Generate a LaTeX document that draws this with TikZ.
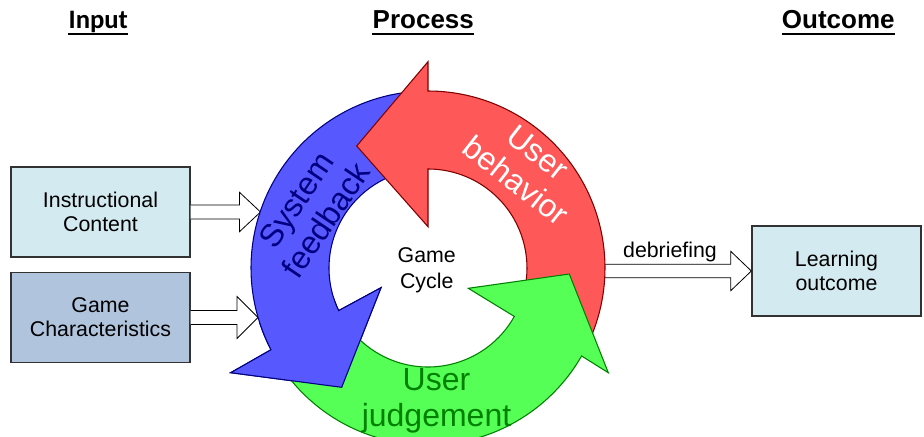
\documentclass[tikz,border=0pt]{standalone}
\usepackage{fontspec}
\setmainfont{Liberation Sans}
\newfontfamily\calibfont{Carlito}
\usetikzlibrary{calc}
\definecolor{redfill}{RGB}{255,88,88}
\definecolor{redline}{RGB}{128,0,0}
\definecolor{bluefill}{RGB}{88,88,255}
\definecolor{blueline}{RGB}{0,0,128}
\definecolor{greenfill}{RGB}{85,255,85}
\definecolor{greenline}{RGB}{0,128,0}
\definecolor{icfill}{RGB}{211,234,240}
\definecolor{gcfill}{RGB}{176,196,222}
\definecolor{boxline}{RGB}{50,50,50}
\tikzset{
  box/.style={draw=boxline, line width=1pt, minimum width=134.25pt, minimum height=67.5pt,
    align=center, inner sep=0pt, font=\fontsize{16}{18}\selectfont},
  blockarr/.style={draw=black, fill=white, line width=0.6pt, line join=miter},
  hdr/.style={anchor=base, inner sep=0pt, font=\fontsize{19.5}{22}\selectfont\bfseries},
  uline/.style={line width=1.6pt},
  cyc/.style={line width=0.8pt, line join=miter},
  bigtext/.style={align=center, inner sep=0pt, font=\fontsize{24}{27}\selectfont},
  smalltext/.style={align=center, inner sep=0pt, font=\fontsize{16}{19.5}\selectfont}
}
\begin{document}
\begin{tikzpicture}[x=0.75pt,y=0.75pt]
\useasboundingbox (-428,-168) rectangle (496,268);
\clip (-428,-168) rectangle (496,268);

% headers
\node[hdr, font=\fontsize{20}{22}\selectfont\bfseries\calibfont] (hin) at (-329.7,239) {Input};
\node[hdr] (hpr) at (-4.7,239) {Process};
\node[hdr] (hout) at (410.3,239) {Outcome};
\foreach \h in {hin,hpr,hout}{
  \draw[uline] ($(\h.base west)+(0,-5)$) -- ($(\h.base east)+(0,-5)$);
}

% boxes
\node[box, fill=icfill] (ic) at (-327.5,56) {Instructional\\Content};
\node[box, fill=gcfill] (gc) at (-327.5,-49.5) {Game\\Characteristics};
\node[box, fill=icfill, minimum width=126.75pt] (lo) at (408.5,-3) {Learning\\outcome};

% arrow tips / ends
\coordinate (c) at (0,0);
\coordinate (t1) at (-167.5,56);
\coordinate (t2) at (-170,-49.5);
\coordinate (d0) at (165,-3);

% block arrows
\draw[blockarr] ($(ic.east)+(0,7)$) -- ($(t1)+(-21,7)$) -- ($(t1)+(-21,19.7)$) -- (t1)
  -- ($(t1)+(-21,-19.7)$) -- ($(t1)+(-21,-7)$) -- ($(ic.east)+(0,-7)$);
\draw[blockarr] ($(gc.east)+(0,7)$) -- ($(t2)+(-21,7)$) -- ($(t2)+(-21,21)$) -- (t2)
  -- ($(t2)+(-21,-21)$) -- ($(t2)+(-21,-7)$) -- ($(gc.east)+(0,-7)$);
\draw[blockarr] ($(d0)+(0,6.7)$) -- ($(lo.west)+(-20.6,6.7)$) -- ($(lo.west)+(-20.6,19.7)$) -- (lo.west)
  -- ($(lo.west)+(-20.6,-19.7)$) -- ($(lo.west)+(-20.6,-6.7)$) -- ($(d0)+(0,-6.7)$);
\node[smalltext, anchor=base] (db) at (242,11) {debriefing};

% cycle arrows
\def\bluearrow{(95:177) arc[start angle=95, end angle=207.5, radius=177]
  -- (-197.3,-104.7) -- (-86.3,-119.3) -- (-47,-19.7)
  -- (205.5:99) arc[start angle=205.5, end angle=95, radius=99] -- cycle}
\draw[cyc, fill=bluefill, draw=blueline] \bluearrow;
\draw[cyc, fill=redfill, draw=redline] (-24:177) arc[start angle=-24, end angle=90, radius=177]
  -- (0,206.3) -- (-71.3,122) -- (0,41.3)
  -- (90:99) arc[start angle=90, end angle=-24, radius=99] -- cycle;
\draw[cyc, fill=greenfill, draw=greenline] (215:177) arc[start angle=215, end angle=330.2, radius=177]
  -- (180.3,-104.7) -- (141.3,-6) -- (40.3,-20.3)
  -- (330.7:99) arc[start angle=330.7, end angle=215, radius=99] -- cycle;
\begin{scope}
  \clip (c) -- (198:320) -- (250:320) -- cycle;
  \draw[cyc, fill=bluefill, draw=blueline] \bluearrow;
\end{scope}

% texts on cycle
\node[bigtext, text=white, rotate=-38] (ub) at (99,101) {User\\behavior};
\node[bigtext, text=blueline, rotate=56] (sf) at (-117,58) {System\\feedback};
\node[bigtext, text=greenline] (uj) at (8.5,-133) {User\\judgement};
\node[smalltext] (gcy) at (-1.3,-2) {Game\\Cycle};
\end{tikzpicture}
\end{document}
